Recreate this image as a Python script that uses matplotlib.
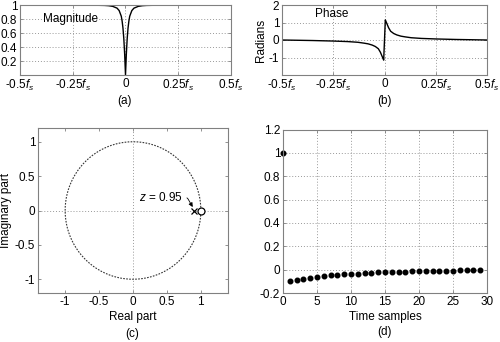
import matplotlib
matplotlib.use('Agg')
import matplotlib.pyplot as plt
import numpy as np

plt.rcParams['font.family'] = ['Liberation Sans', 'DejaVu Sans']
plt.rcParams['mathtext.fontset'] = 'custom'
plt.rcParams['mathtext.rm'] = 'Liberation Sans'
plt.rcParams['mathtext.it'] = 'Liberation Sans:italic'
plt.rcParams['axes.unicode_minus'] = False
FS = 8.5
plt.rcParams['font.size'] = FS

# magnitude response (positive freqs, mirrored)
mag_f = [0, 0.004, 0.008, 0.012, 0.016, 0.02, 0.03, 0.04, 0.06, 0.08, 0.1, 0.15, 0.25, 0.5]
mag_v = [0, 0.3, 0.52, 0.67, 0.77, 0.84, 0.92, 0.955, 0.98, 0.99, 0.994, 0.997, 0.999, 1.0]

# phase response (positive freqs, odd symmetric)
ph_f = [0.004, 0.01, 0.02, 0.03, 0.045, 0.06, 0.08, 0.1, 0.13, 0.18, 0.25, 0.35, 0.5]
ph_v = [1.15, 0.98, 0.7, 0.5, 0.37, 0.29, 0.22, 0.18, 0.13, 0.09, 0.06, 0.03, 0.0]

# pole / zero
pole_x = [0.9]
zero_x = [1.0]

# impulse response, panel (d)
n = list(range(30))
h = [1, -0.095, -0.085, -0.077, -0.069, -0.062, -0.056, -0.050, -0.045, -0.041,
     -0.037, -0.033, -0.030, -0.027, -0.024, -0.022, -0.020, -0.018, -0.016, -0.014,
     -0.013, -0.012, -0.010, -0.009, -0.008, -0.008, -0.007, -0.006, -0.006, -0.005]

fs_ticks = [-0.5, -0.25, 0, 0.25, 0.5]
fs_labels = [r'-0.5$f_s$', r'-0.25$f_s$', '0', r'0.25$f_s$', r'0.5$f_s$']
pz_ticks = [-1, -0.5, 0, 0.5, 1]
pz_labels = ['-1', '-0.5', '0', '0.5', '1']

W, H = 500, 342
fig = plt.figure(figsize=(5, 3.42), dpi=100)

def box(l, r, t, b):
    return [l / W, 1 - b / H, (r - l) / W, (b - t) / H]

def style(ax):
    for s in ax.spines.values():
        s.set_color('#808080')
        s.set_linewidth(0.8)
    ax.tick_params(direction='in', length=2.5, width=0.6, color='#808080',
                   top=True, right=True, pad=2, labelsize=FS)

grid_kw = dict(color='#999999', linestyle=(0, (1, 2)), linewidth=0.7)

ax1 = fig.add_axes(box(20, 231, 5, 75))
mf = [-f for f in mag_f[::-1]] + mag_f[1:]
mv = mag_v[::-1] + mag_v[1:]
ax1.plot(mf, mv, color='black', lw=1.0)
ax1.set_xlim(-0.5, 0.5)
ax1.set_ylim(0, 1)
ax1.set_xticks(fs_ticks)
ax1.set_xticklabels(fs_labels)
ax1.set_yticks([0.2, 0.4, 0.6, 0.8, 1])
ax1.set_yticklabels(['0.2', '0.4', '0.6', '0.8', '1'])
ax1.grid(True, **grid_kw)
ax1.text(-0.39, 0.8, 'Magnitude', fontsize=FS, va='center')
style(ax1)

ax2 = fig.add_axes(box(282, 487, 5, 75))
pf = [-f for f in ph_f[::-1]] + ph_f
pv = [-v for v in ph_v[::-1]] + ph_v
ax2.plot(pf, pv, color='black', lw=1.0)
ax2.set_xlim(-0.5, 0.5)
ax2.set_ylim(-2, 2)
ax2.set_xticks(fs_ticks)
ax2.set_xticklabels(fs_labels)
ax2.set_yticks([-1, 0, 1, 2])
ax2.grid(True, **grid_kw)
ax2.set_ylabel('Radians', labelpad=1)
ax2.text(-0.34, 1.5, 'Phase', fontsize=FS, va='center')
style(ax2)

ax3 = fig.add_axes(box(38, 228, 128, 293))
t = np.linspace(0, 2 * np.pi, 400)
ax3.plot(np.cos(t), np.sin(t), color='#333333', lw=0.8, linestyle=(0, (1.5, 1.2)))
ax3.axhline(0, **grid_kw)
ax3.axvline(0, **grid_kw)
ax3.plot(pole_x, [0], marker='x', color='black', ms=5, mew=0.9, ls='none')
ax3.plot(zero_x, [0], marker='o', mfc='white', mec='black', ms=5, mew=0.9, ls='none')
ax3.annotate(r'$z$ = 0.95', xy=(0.88, 0.05), xytext=(0.09, 0.19),
             fontsize=FS, va='center',
             arrowprops=dict(arrowstyle='-|>', color='black', lw=0.6,
                             connectionstyle='angle,angleA=0,angleB=-60,rad=2',
                             shrinkA=1, shrinkB=0, mutation_scale=6))
ax3.set_xlim(-1.4, 1.4)
ax3.set_ylim(-1.2, 1.2)
ax3.set_xticks(pz_ticks)
ax3.set_xticklabels(pz_labels)
ax3.set_yticks(pz_ticks)
ax3.set_yticklabels(pz_labels)
ax3.set_xlabel('Real part', labelpad=2)
ax3.set_ylabel('Imaginary part', labelpad=2)
style(ax3)

ax4 = fig.add_axes(box(283, 487, 129.6, 293))
ax4.plot(n, h, 'o', color='black', ms=3.3, clip_on=False)
ax4.set_xlim(0, 30)
ax4.set_ylim(-0.2, 1.2)
ax4.set_xticks([0, 5, 10, 15, 20, 25, 30])
ax4.set_yticks([-0.2, 0, 0.2, 0.4, 0.6, 0.8, 1, 1.2])
ax4.set_yticklabels(['-0.2', '0', '0.2', '0.4', '0.6', '0.8', '1', '1.2'])
ax4.grid(True, **grid_kw)
ax4.set_xlabel('Time samples', labelpad=2)
style(ax4)

fig.text(125 / W, 1 - 101 / H, '(a)', ha='center', va='center', fontsize=FS)
fig.text(385 / W, 1 - 101 / H, '(b)', ha='center', va='center', fontsize=FS)
fig.text(132 / W, 1 - 334 / H, '(c)', ha='center', va='center', fontsize=FS)
fig.text(385 / W, 1 - 332 / H, '(d)', ha='center', va='center', fontsize=FS)

fig.savefig('out.png', dpi=100)
